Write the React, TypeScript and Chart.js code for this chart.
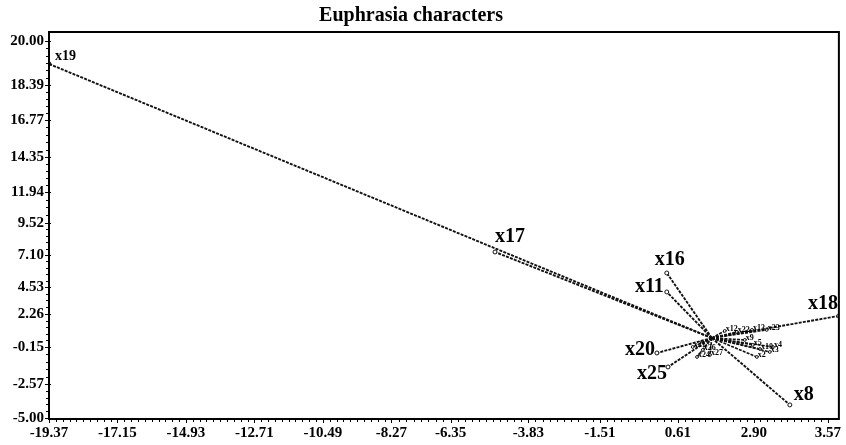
import React, { useEffect, useRef } from 'react';
import { Chart, registerables } from 'chart.js';

Chart.register(...registerables);

const TITLE = 'Euphrasia characters';

const xTickLabels = ['-19.37', '-17.15', '-14.93', '-12.71', '-10.49', '-8.27', '-6.35', '-3.83', '-1.51', '0.61', '2.90', '3.57'];
const xTickValues = [-19.37, -17.15, -14.93, -12.71, -10.49, -8.27, -6.35, -3.83, -1.51, 1.02, 3.48, 5.88];
const yTickLabels = ['20.00', '18.39', '16.77', '14.35', '11.94', '9.52', '7.10', '4.53', '2.26', '-0.15', '-2.57', '-5.00'];
const yTickValues = [23.72, 20.29, 17.56, 14.67, 11.94, 9.52, 7.03, 4.53, 2.42, -0.15, -3.04, -5.69];

const X_MIN = -19.37;
const X_MAX = 6.24;
const Y_MIN = -5.77;
const Y_MAX = 24.42;

const originX = 2.12;
const originY = 0.55;

// main (labelled) characters
const mainNames = ['x19', 'x17', 'x16', 'x11', 'x18', 'x20', 'x25', 'x8'];
const mainX = [-19.37, -4.91, 0.66, 0.66, 6.24, 0.34, 0.70, 4.65];
const mainY = [21.93, 7.26, 5.62, 4.14, 2.27, -0.62, -1.71, -4.67];

// short characters clustered near the origin
const minorNames = ['x22', 'x13', 'x23', 'x12', 'x5', 'x4', 'x2', 'x3', 'x26', 'x27', 'x21', 'x24', 'x9', 'x10'];
const minorX = [2.93, 3.42, 3.90, 2.54, 3.45, 4.10, 3.58, 4.00, 1.83, 2.06, 1.50, 1.64, 3.19, 3.68];
const minorY = [1.02, 1.18, 1.18, 1.10, 0.01, -0.15, -0.93, -0.54, -0.38, -0.77, -0.15, -0.93, 0.40, -0.31];

const FONT = '"Liberation Serif", "Times New Roman", serif';
const INK = '#111111';

// label placement styles (pixel offsets from the vector tip)
const mainLabelStyle: Record<string, { size: number; align: CanvasTextAlign; dx: number; dy: number }> = {
  x19: { size: 14, align: 'left', dx: 6, dy: -8 },
  x17: { size: 20, align: 'left', dx: 0, dy: -15 },
  x16: { size: 20, align: 'center', dx: 3, dy: -13 },
  x11: { size: 20, align: 'right', dx: -3, dy: -5 },
  x18: { size: 20, align: 'right', dx: -1, dy: -12 },
  x20: { size: 20, align: 'right', dx: -2, dy: -3 },
  x25: { size: 20, align: 'right', dx: -1, dy: 7 },
  x8: { size: 20, align: 'left', dx: 4, dy: -10 },
};

export default function App() {
  const ref = useRef<HTMLCanvasElement | null>(null);

  useEffect(() => {
    document.body.style.margin = '0';
    const canvas = ref.current;
    if (!canvas) return;

    const names = [...mainNames, ...minorNames];
    const xs = [...mainX, ...minorX];
    const ys = [...mainY, ...minorY];

    const datasets = names.map((n, i) => ({
      label: n,
      data: [
        { x: originX, y: originY },
        { x: xs[i], y: ys[i] },
      ],
      showLine: true,
      borderColor: INK,
      borderWidth: i < mainNames.length ? 1.9 : 1.6,
      borderDash: [3, 1.2],
      pointRadius: [0, i < mainNames.length ? 2 : 1.4],
      pointBackgroundColor: n === 'x19' ? INK : '#ffffff',
      pointBorderColor: INK,
      pointBorderWidth: 1,
    }));

    const framePlugin = {
      id: 'frame',
      afterDraw(chart: any) {
        const ctx = chart.ctx;
        const { left, right, top, bottom } = chart.chartArea;
        ctx.save();
        // title
        ctx.fillStyle = '#000';
        ctx.font = `bold 20px ${FONT}`;
        ctx.textAlign = 'center';
        ctx.textBaseline = 'middle';
        ctx.fillText(TITLE, 411, 16);

        // frame
        ctx.strokeStyle = '#000';
        ctx.lineWidth = 2;
        ctx.strokeRect(left, top, right - left, bottom - top);

        // ticks
        ctx.lineWidth = 1;
        const xs = chart.scales.x;
        const ys = chart.scales.y;
        const xp = xTickValues.map((v) => xs.getPixelForValue(v));
        const yp = yTickValues.map((v) => ys.getPixelForValue(v));
        ctx.beginPath();
        xp.forEach((p, i) => {
          ctx.moveTo(Math.round(p) + 0.5, bottom);
          ctx.lineTo(Math.round(p) + 0.5, bottom + 4);
          if (i < xp.length - 1) {
            const gap = xp[i + 1] - p;
            const n = Math.max(1, Math.round(gap / 7));
            for (let k = 1; k < n; k++) {
              const q = Math.round(p + (gap * k) / n) + 0.5;
              ctx.moveTo(q, bottom);
              ctx.lineTo(q, bottom + 3);
            }
          }
        });
        yp.forEach((p, i) => {
          ctx.moveTo(left - 4, Math.round(p) + 0.5);
          ctx.lineTo(left + 2, Math.round(p) + 0.5);
          if (i < yp.length - 1) {
            const gap = yp[i + 1] - p;
            const n = Math.max(1, Math.round(gap / 7));
            for (let k = 1; k < n; k++) {
              const q = Math.round(p + (gap * k) / n) + 0.5;
              ctx.moveTo(left - 3, q);
              ctx.lineTo(left + 1, q);
            }
          }
        });
        ctx.stroke();
        ctx.restore();
      },
    };

    const labelPlugin = {
      id: 'vecLabels',
      afterDatasetsDraw(chart: any) {
        const ctx = chart.ctx;
        ctx.save();
        ctx.fillStyle = '#000';
        ctx.textBaseline = 'middle';
        chart.data.datasets.forEach((ds: any, i: number) => {
          const meta = chart.getDatasetMeta(i);
          const pt = meta.data[1];
          if (!pt) return;
          const st = mainLabelStyle[ds.label];
          if (st) {
            ctx.font = `bold ${st.size}px ${FONT}`;
            ctx.textAlign = st.align;
            ctx.fillText(ds.label, pt.x + st.dx, pt.y + st.dy);
          } else {
            ctx.font = `bold 8px ${FONT}`;
            ctx.textAlign = 'left';
            ctx.fillText(ds.label, pt.x + 1, pt.y - 2);
          }
        });
        ctx.restore();
      },
    };

    const chart = new Chart(canvas, {
      type: 'scatter',
      data: { datasets },
      options: {
        animation: false,
        responsive: false,
        maintainAspectRatio: false,
        layout: { padding: { top: 32, right: 7, left: 0, bottom: 0 } },
        plugins: {
          legend: { display: false },
          title: { display: false },
          tooltip: { enabled: false },
        },
        scales: {
          x: {
            type: 'linear',
            min: X_MIN,
            max: X_MAX,
            afterBuildTicks: (scale: any) => {
              scale.ticks = xTickValues.map((v) => ({ value: v }));
            },
            afterFit: (scale: any) => {
              scale.height = 26;
            },
            grid: { display: false, drawTicks: false },
            border: { display: false },
            ticks: {
              autoSkip: false,
              maxRotation: 0,
              padding: 5,
              color: '#000',
              font: { family: FONT, size: 15, weight: 'bold' },
              callback: (_v: any, idx: number) => xTickLabels[idx],
            },
          },
          y: {
            type: 'linear',
            min: Y_MIN,
            max: Y_MAX,
            afterBuildTicks: (scale: any) => {
              scale.ticks = yTickValues.map((v) => ({ value: v }));
            },
            afterFit: (scale: any) => {
              scale.width = 49;
            },
            grid: { display: false, drawTicks: false },
            border: { display: false },
            ticks: {
              autoSkip: false,
              padding: 5,
              color: '#000',
              font: { family: FONT, size: 15, weight: 'bold' },
              callback: (_v: any, idx: number) => yTickLabels[idx],
            },
          },
        },
      },
      plugins: [labelPlugin, framePlugin],
    } as any);

    return () => chart.destroy();
  }, []);

  return (
    <div style={{ width: 846, height: 445, background: '#fff' }}>
      <canvas ref={ref} width={846} height={445} style={{ width: 846, height: 445, display: 'block' }} />
    </div>
  );
}
